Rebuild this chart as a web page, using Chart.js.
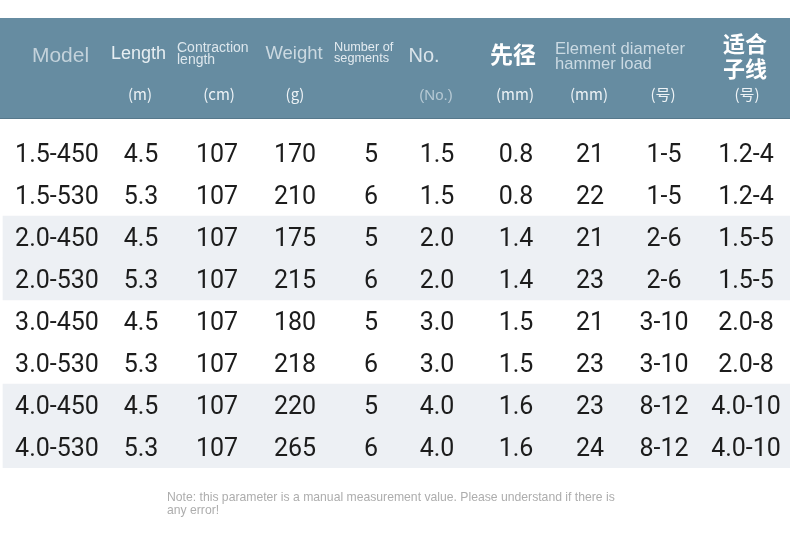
<!DOCTYPE html>
<html>
<head>
<meta charset="utf-8">
<script src="https://cdn.jsdelivr.net/npm/chart.js@4"></script>
<style>
  html, body { margin: 0; padding: 0; background: #ffffff; }
  #wrap { width: 790px; height: 554px; }
</style>
</head>
<body>
<div id="wrap"><canvas id="specChart" width="790" height="554"></canvas></div>
<script>
// ---- table data ----
const models = ['1.5-450', '1.5-530', '2.0-450', '2.0-530', '3.0-450', '3.0-530', '4.0-450', '4.0-530'];
const lengths = ['4.5', '5.3', '4.5', '5.3', '4.5', '5.3', '4.5', '5.3'];
const contractions = ['107', '107', '107', '107', '107', '107', '107', '107'];
const weights = ['170', '210', '175', '215', '180', '218', '220', '265'];
const segments = ['5', '6', '5', '6', '5', '6', '5', '6'];
const numbers = ['1.5', '1.5', '2.0', '2.0', '3.0', '3.0', '4.0', '4.0'];
const tipDiameters = ['0.8', '0.8', '1.4', '1.4', '1.5', '1.5', '1.6', '1.6'];
const elementDiameters = ['21', '22', '21', '23', '21', '23', '23', '24'];
const hammerLoads = ['1-5', '1-5', '2-6', '2-6', '3-10', '3-10', '8-12', '8-12'];
const lineSizes = ['1.2-4', '1.2-4', '1.5-5', '1.5-5', '2.0-8', '2.0-8', '4.0-10', '4.0-10'];

const columns = [models, lengths, contractions, weights, segments, numbers,
                 tipDiameters, elementDiameters, hammerLoads, lineSizes];
const units = ['', '(m)', '(cm)', '(g)', '', '(No.)', '(mm)', '(mm)', '(号)', '(号)'];
const note = ['Note: this parameter is a manual measurement value. Please understand if there is', 'any error!'];

// ---- layout (x in canvas units, the x scale runs 0..790) ----
const colX = [57, 141, 217, 295, 371, 437, 516, 590, 664, 746];
const unitX = [0, 140, 219, 295, 0, 436, 515, 589, 663, 747];
const headerBand = { top: 18, bottom: 119, color: '#668ca1' };
const stripeColor = '#edf0f4';
const latin = '"Liberation Sans", Arial, sans-serif';
const cjk = '"Noto Sans CJK SC", sans-serif';

// header captions: lines, font, colour, anchor
const headers = [
  { lines: ['Model'], x: 60.5, y: [62], font: '21px ' + latin, color: '#c3d2db', align: 'center' },
  { lines: ['Length'], x: 138.5, y: [59], font: '18px ' + latin, color: '#e7eef2', align: 'center' },
  { lines: ['Contraction', 'length'], x: 177, y: [52, 64], font: '14px ' + latin, color: '#dde7ed', align: 'left' },
  { lines: ['Weight'], x: 294, y: [59], font: '18.5px ' + latin, color: '#cbd9e1', align: 'center' },
  { lines: ['Number of', 'segments'], x: 334, y: [51, 62], font: '12.7px ' + latin, color: '#e3ebf0', align: 'left' },
  { lines: ['No.'], x: 424, y: [62], font: '20px ' + latin, color: '#dbe5eb', align: 'center' },
  { lines: ['先径'], x: 513, y: [63], font: 'bold 23px ' + cjk, color: '#ffffff', align: 'center' },
  { lines: ['Element diameter', 'hammer load'], x: 555, y: [54, 69], font: '16.6px ' + latin, color: '#cbdae3', align: 'left' },
  { lines: ['适合', '子线'], x: 745, y: [52, 77], font: 'bold 22px ' + cjk, color: '#ffffff', align: 'center' }
];

// alternating pairs of rows get a pale stripe
const stripes = models.map((m, i) => (Math.floor(i / 2) % 2 === 1 ? [3, 790] : null));

const tablePlugin = {
  id: 'tablePlugin',
  beforeDraw(chart) {
    const ctx = chart.ctx;
    ctx.save();
    ctx.fillStyle = '#ffffff';
    ctx.fillRect(0, 0, chart.width, chart.height);
    ctx.fillStyle = headerBand.color;
    ctx.fillRect(0, headerBand.top, chart.width, headerBand.bottom - headerBand.top);
    ctx.fillStyle = 'rgba(70,100,118,0.5)';
    ctx.fillRect(0, headerBand.bottom - 1, chart.width, 1);

    // header captions
    ctx.textBaseline = 'alphabetic';
    headers.forEach(h => {
      ctx.font = h.font;
      ctx.fillStyle = h.color;
      ctx.textAlign = h.align;
      h.lines.forEach((line, k) => ctx.fillText(line, h.x, h.y[k]));
    });

    // units row
    ctx.textAlign = 'center';
    units.forEach((u, j) => {
      if (!u) return;
      ctx.font = (u === '(No.)' ? '15px ' + latin : '15px ' + cjk);
      ctx.fillStyle = (u === '(No.)' ? '#b6c9d4' : '#eef3f6');
      ctx.fillText(u, unitX[j], 100);
    });
    ctx.restore();
  },
  afterDatasetsDraw(chart) {
    const ctx = chart.ctx;
    const xs = chart.scales.x;
    const ys = chart.scales.y;
    ctx.save();
    ctx.font = '25px Roboto, "Noto Sans", sans-serif';
    ctx.fillStyle = '#1c1c1c';
    ctx.textAlign = 'center';
    ctx.textBaseline = 'alphabetic';
    columns.forEach((col, j) => {
      col.forEach((val, i) => {
        ctx.fillText(val, xs.getPixelForValue(colX[j]), ys.getPixelForValue(i) + 9);
      });
    });

    // footnote
    ctx.font = '12.2px ' + latin;
    ctx.fillStyle = '#adadad';
    ctx.textAlign = 'left';
    ctx.fillText(note[0], 167, 501);
    ctx.fillText(note[1], 167, 514);
    ctx.restore();
  }
};

new Chart(document.getElementById('specChart'), {
  type: 'bar',
  data: {
    labels: models,
    datasets: [{
      data: stripes,
      backgroundColor: stripeColor,
      borderWidth: 0,
      barPercentage: 1,
      categoryPercentage: 1
    }]
  },
  options: {
    indexAxis: 'y',
    responsive: false,
    animation: false,
    layout: { padding: { top: 132, bottom: 86, left: 0, right: 0 } },
    plugins: {
      legend: { display: false },
      tooltip: { enabled: false }
    },
    scales: {
      x: { type: 'linear', min: 0, max: 790, display: false },
      y: { type: 'category', display: false, offset: true }
    }
  },
  plugins: [tablePlugin]
});
</script>
</body>
</html>
